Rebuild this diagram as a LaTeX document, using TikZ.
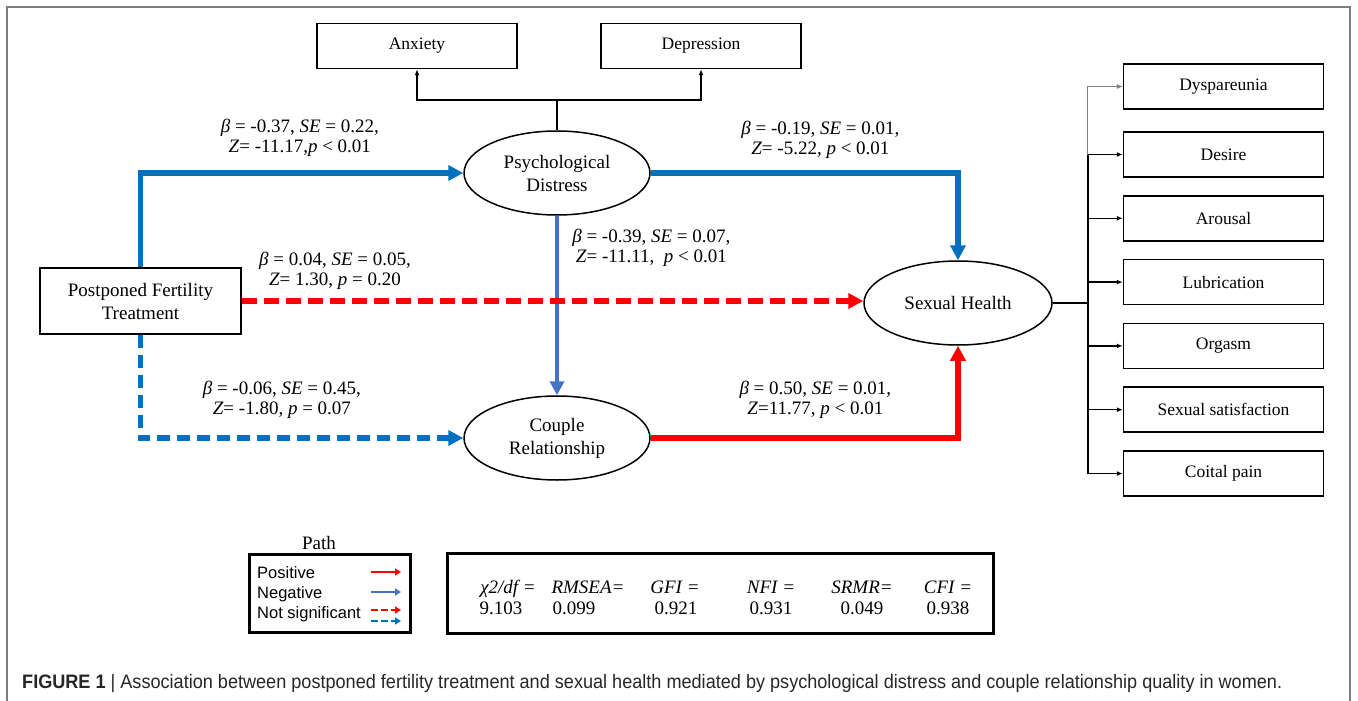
\documentclass[tikz,border=0pt]{standalone}
\usepackage{fontspec}
\setmainfont{Liberation Serif}
\newfontfamily\legendsans{Liberation Sans}
\usepackage{graphicx}
\usepackage{tikz}
\usetikzlibrary{shapes.geometric, arrows.meta, positioning, calc}
\definecolor{pathblue}{RGB}{0,112,192}
\definecolor{pathmidblue}{RGB}{68,114,196}
\definecolor{pathred}{RGB}{255,0,0}
\definecolor{framegray}{RGB}{125,125,125}
\tikzset{
  %% ---- boxes ----
  obsbox/.style  = {rectangle, draw, line width=1.5pt,
                    minimum width=200pt, minimum height=45pt, inner sep=0pt,
                    font=\fontsize{17.5}{21}\selectfont},
  latent/.style  = {ellipse, draw, line width=1.5pt,
                    minimum width=186pt, minimum height=84pt, inner sep=1pt,
                    align=center, font=\fontsize{19}{23}\selectfont},
  predbox/.style = {rectangle, draw, line width=1.5pt,
                    minimum width=201pt, minimum height=66pt,
                    align=center, font=\fontsize{19}{23}\selectfont},
  coef/.style    = {align=center, text=black, font=\fontsize{19}{20}\selectfont},
  fitlab/.style  = {anchor=base, inner sep=0pt, font=\fontsize{19}{20}\selectfont\itshape},
  fitval/.style  = {anchor=base, inner sep=0pt, font=\fontsize{19}{20}\selectfont},
  legtext/.style = {anchor=base west, inner sep=0pt,
                    font=\fontsize{16.5}{20}\selectfont\legendsans},
  framebox/.style= {rectangle, draw, line width=3pt},
  %% ---- arrows ----
  negarrow/.style = {-{Triangle[length=15pt,width=15pt]}, line width=5.5pt, color=pathblue},
  negthin/.style  = {-{Triangle[length=14pt,width=14pt]}, line width=4pt, color=pathmidblue},
  posarrow/.style = {-{Triangle[length=15pt,width=15pt]}, line width=5.5pt, color=pathred},
  nsred/.style    = {posarrow, dash pattern=on 15pt off 7pt},
  nsblue/.style   = {negarrow, dash pattern=on 13pt off 7pt},
  thinarrow/.style= {-{Latex[length=6pt,width=5pt]}, line width=1.3pt},
  legarrow/.style = {-{Triangle[length=6pt,width=7pt]}, line width=2.6pt},
}

\begin{document}
\begin{tikzpicture}[x=1pt, y=-1pt, node distance=17.3pt]
\useasboundingbox (0,0) rectangle (1358,701);
\draw[framegray, line width=2pt] (7,701) -- (7,7) -- (1350,7) -- (1350,701);

%% ---- variables ----
\node[obsbox]  (anxiety)    at (417,46)    {Anxiety};
\node[obsbox]  (depression) at (701,46)    {Depression};
\node[predbox] (ptreat)     at (140.5,301) {Postponed Fertility\\Treatment};
\node[latent]  (psych)      at (557,173)   {Psychological\\Distress};
\node[latent]  (couple)     at (557,438)   {Couple\\Relationship};
\node[latent, minimum width=188pt] (sexual) at (958,303) {Sexual Health};

\node[obsbox] (dysp)                             at (1223.5,86.5) {Dyspareunia};
\node[obsbox, below=21.5pt of dysp]   (desire)   {Desire};
\node[obsbox, below=of desire]        (arousal)  {Arousal};
\node[obsbox, below=of arousal]       (lubric)   {Lubrication};
\node[obsbox, below=of lubric]        (orgasm)   {Orgasm};
\node[obsbox, below=of orgasm]        (satisf)   {Sexual satisfaction};
\node[obsbox, below=of satisf]        (coital)   {Coital pain};

%% ---- indicators ----
\draw[line width=1.3pt] (psych.north) -- (psych.north |- 0,100) coordinate (split);
\draw[thinarrow] (split) -| (anxiety.south);
\draw[thinarrow] (split) -| (depression.south);

\draw[line width=2pt] (sexual.east) -- ++(35,0) coordinate (hub);
\draw[thinarrow, gray, line width=0.8pt] (hub |- desire.west) -- (hub |- dysp.west) -- (dysp.west);
\draw[line width=1.5pt] (hub |- desire.west) -- (hub |- coital.west);
\draw[thinarrow] (hub |- desire.west)  -- (desire.west);
\draw[thinarrow] (hub |- arousal.west) -- (arousal.west);
\draw[thinarrow] (hub |- lubric.west)  -- (lubric.west);
\draw[thinarrow] (hub |- orgasm.west)  -- (orgasm.west);
\draw[thinarrow] (hub |- satisf.west)  -- (satisf.west);
\draw[thinarrow] (hub |- coital.west)  -- (coital.west);

%% ---- paths ----
\draw[negarrow] (ptreat.north) |- node[coef, pos=0.75, above=10pt, xshift=-2pt] (c1)
  {\textit{β} = -0.37, \textit{SE} = 0.22,\\ \textit{Z}= -11.17,\textit{p} < 0.01} (psych.west);
\draw[negarrow] (psych.east) -| node[coef, pos=0.25, above=8pt, xshift=16pt] (c2)
  {\textit{β} = -0.19, \textit{SE} = 0.01,\\ \textit{Z}= -5.22, \textit{p} < 0.01} (sexual.north);
\draw[negthin] (psych.south) -- node[coef, pos=0.18, right=10pt] (c3)
  {\textit{β} = -0.39, \textit{SE} = 0.07,\\ \textit{Z}= -11.11,\ \ \textit{p} < 0.01} (couple.north);
\draw[nsred] (ptreat.east) -- node[coef, pos=0.15, above=5pt] (c4)
  {\textit{β} = 0.04, \textit{SE} = 0.05,\\ \textit{Z}= 1.30, \textit{p} = 0.20} (ptreat.east -| sexual.west);
\draw[nsblue] (ptreat.south) |- node[coef, pos=0.75, above=13pt, xshift=-20pt] (c5)
  {\textit{β} = -0.06, \textit{SE} = 0.45,\\ \textit{Z}= -1.80, \textit{p} = 0.07} (couple.west);
\draw[posarrow] (couple.east) -| node[coef, pos=0.25, above=13pt, xshift=11pt] (c6)
  {\textit{β} = 0.50, \textit{SE} = 0.01,\\ \textit{Z}=11.77, \textit{p} < 0.01} (sexual.south);

%% ---- legend ----
\node[font=\fontsize{19}{20}\selectfont] (pathttl) at (319,543) {Path};
\node[framebox, minimum width=161pt, minimum height=78pt] (legbox) at (330,593) {};
\node[legtext] (lpos) at (257,578) {Positive};
\node[legtext] (lneg) at (257,598) {Negative};
\node[legtext] (lns)  at (257,618) {Not significant};
\draw[legarrow, pathred]     (371,572) -- (401,572);
\draw[legarrow, pathmidblue] (371,592) -- (401,592);
\draw[legarrow, pathred, dash pattern=on 7pt off 3pt]  (371,610) -- (401,610);
\draw[legarrow, pathblue, dash pattern=on 7pt off 3pt] (371,621) -- (401,621);

%% ---- model fit ----
\node[framebox, minimum width=546pt, minimum height=80pt] (fitbox) at (720,593) {};
\node[fitlab] (f1) at (508,593) {χ2/df =};
\node[fitval] (v1) at (501,614) {9.103};
\node[fitlab] (f2) at (588,593) {RMSEA=};
\node[fitval] (v2) at (574,614) {0.099};
\node[fitlab] (f3) at (675,593) {GFI =};
\node[fitval] (v3) at (676,614) {0.921};
\node[fitlab] (f4) at (771,593) {NFI =};
\node[fitval] (v4) at (771,614) {0.931};
\node[fitlab] (f5) at (862,593) {SRMR=};
\node[fitval] (v5) at (862,614) {0.049};
\node[fitlab] (f6) at (948,593) {CFI =};
\node[fitval] (v6) at (948,614) {0.938};

%% ---- caption ----
\node[anchor=base west, inner sep=0pt, text=black!85] (caption) at (22,688)
  {\resizebox{1260pt}{\height}{\fontsize{19.5}{22}\selectfont\legendsans
   {\bfseries FIGURE 1} | Association between postponed fertility treatment and sexual health mediated by psychological distress and couple relationship quality in women.}};
\end{tikzpicture}
\end{document}
